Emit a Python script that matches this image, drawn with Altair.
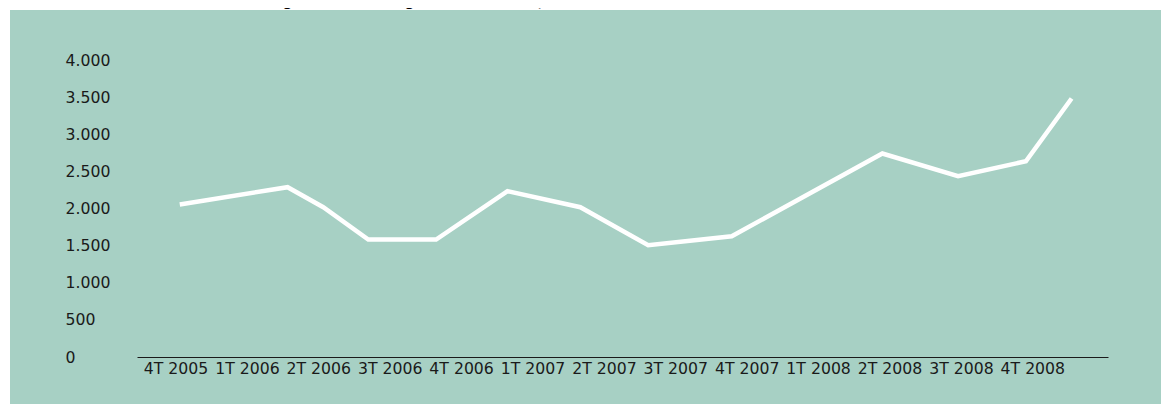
import altair as alt
import pandas as pd

title_text = "G7. Evolució trimestral de l'atur registrat d'estrangers al Maresme, 4T 2005-4T 2008"

quarters = ["4T 2005", "1T 2006", "2T 2006", "3T 2006", "4T 2006", "1T 2007", "2T 2007",
            "3T 2007", "4T 2007", "1T 2008", "2T 2008", "3T 2008", "4T 2008"]

# line vertices (position in quarter-index units, value)
pos = [0.06, 1.57, 2.07, 2.70, 3.65, 4.65, 5.67, 6.62, 7.79, 9.90, 10.96, 11.91, 12.55]
values = [2054, 2287, 2017, 1582, 1582, 2233, 2017, 1506, 1627, 2741, 2435, 2637, 3481]

y_ticks = [0, 500, 1000, 1500, 2000, 2500, 3000, 3500, 4000]

W, H = 971, 297
PL, PT, PR, PB = 129, 52, 53, 47
GREEN = "#a7d0c4"
FONT = "DejaVu Sans"
FS = 15.7

df = pd.DataFrame({"pos": pos, "value": values})
label_js = "[" + ",".join("'" + q + "'" for q in quarters) + "]"

panel = alt.Chart(pd.DataFrame({"a": [0]})).mark_rect(color=GREEN).encode(
    x=alt.value(-PL + 2), x2=alt.value(W + PR),
    y=alt.value(-PT + 2), y2=alt.value(H + PB),
)

title = alt.Chart(pd.DataFrame({"t": [title_text]})).mark_text(
    font="Liberation Sans", fontWeight="bold", fontSize=17, align="left",
    baseline="alphabetic", color="#000000",
).encode(x=alt.value(-PL - 2), y=alt.value(-PT - 2), text="t:N")

line = alt.Chart(df).mark_line(color="white", strokeWidth=4.5, strokeCap="butt",
                               strokeJoin="miter").encode(
    x=alt.X("pos:Q",
            scale=alt.Scale(domain=[-0.539, 13.06], nice=False, zero=False),
            axis=alt.Axis(title=None, values=list(range(len(quarters))),
                          labelExpr=label_js + "[datum.value]",
                          grid=False, ticks=False, tickSize=0, zindex=1,
                          domain=True, domainColor="#1a1a1a", domainWidth=1,
                          labelFont=FONT, labelFontSize=FS, labelColor="#1a1a1a",
                          labelPadding=4, labelBaseline="top", labelAlign="center",
                          labelOverlap=False, labelFlush=False)),
    y=alt.Y("value:Q",
            scale=alt.Scale(domain=[0, 4000], nice=False),
            axis=alt.Axis(title=None, values=y_ticks,
                          labelExpr="replace(format(datum.value, ','), ',', '.')",
                          grid=False, ticks=False, tickSize=0, domain=False, zindex=1,
                          labelFont=FONT, labelFontSize=FS, labelColor="#1a1a1a",
                          labelAlign="left", labelBaseline="middle", labelPadding=72,
                          labelOverlap=False, labelFlush=False)),
)

chart = alt.layer(panel, title, line).properties(
    width=W, height=H,
    autosize=alt.AutoSizeParams(type="none"),
    padding={"left": PL, "top": PT, "right": PR, "bottom": PB},
    background="white",
).configure_view(stroke=None)

chart.save("out.html", embed_options={"renderer": "svg", "actions": False})
